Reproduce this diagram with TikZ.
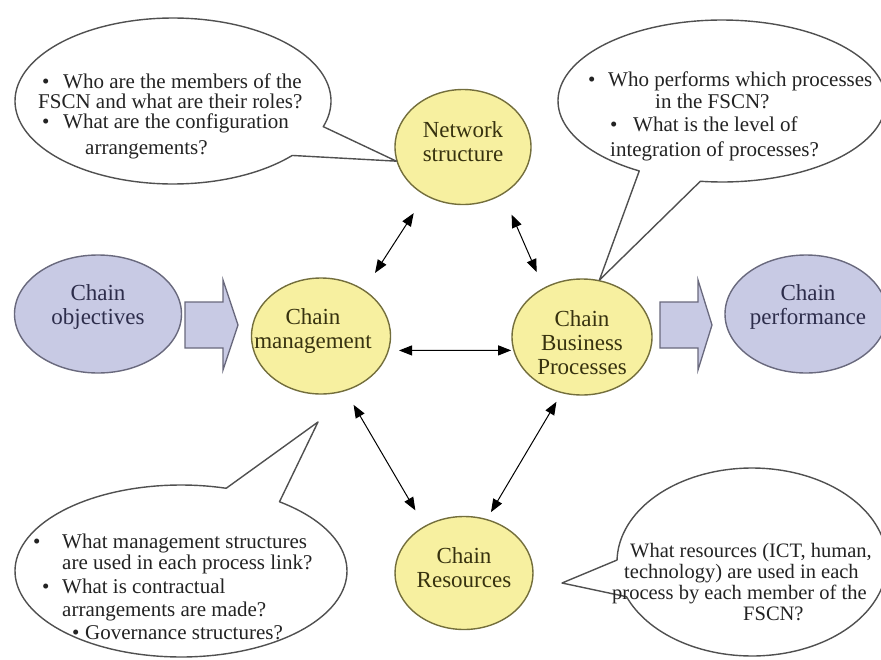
\documentclass[tikz,border=0pt]{standalone}
\usepackage{fontspec}
\setmainfont{Liberation Serif}
\usetikzlibrary{arrows.meta,shapes.geometric}
\definecolor{yelfill}{RGB}{247,240,160}
\definecolor{yeldraw}{RGB}{115,110,60}
\definecolor{yeltext}{RGB}{55,50,15}
\definecolor{purfill}{RGB}{200,202,228}
\definecolor{purdraw}{RGB}{105,105,125}
\definecolor{purtext}{RGB}{45,45,75}
\definecolor{bubdraw}{RGB}{80,80,80}
\definecolor{bubtext}{RGB}{35,35,35}
\newcommand\bblt[1]{\makebox[#1][l]{\textbullet}}
\begin{document}
\begin{tikzpicture}[x=1pt,y=-1pt,
 yel/.style={ellipse, draw=yeldraw, fill=yelfill, line width=1.4pt, inner sep=0pt},
 pur/.style={ellipse, draw=purdraw, fill=purfill, line width=1.4pt, inner sep=0pt},
 ytxt/.style={align=center, text=yeltext, font=\fontsize{23}{24}\selectfont, inner sep=0pt},
 ptxt/.style={align=center, text=purtext, font=\fontsize{23}{24}\selectfont, inner sep=0pt},
 btxt/.style={anchor=base west, inner sep=0pt, text=bubtext, font=\fontsize{21}{22}\selectfont},
 brtxt/.style={btxt, font=\fontsize{20.5}{21}\selectfont},
 bubble/.style={draw=bubdraw, fill=white, line width=1.4pt, line join=round},
 dbl/.style={<->, >={Triangle[length=13pt,width=10pt]}, line width=1pt, black},
 blk/.style={draw=purdraw, fill=purfill, line width=1.3pt}
]
\path[use as bounding box] (0,0) rectangle (881,659);
\clip (0,0) rectangle (881,659);

% main ellipses
\node[yel, minimum width=136pt, minimum height=115pt] (net)  at (463,147) {};
\node[yel, minimum width=139pt, minimum height=116pt] (mgmt) at (321,336) {};
\node[yel, minimum width=140pt, minimum height=116pt] (bus)  at (582,337) {};
\node[yel, minimum width=138pt, minimum height=113pt] (res)  at (464,573) {};
\node[pur, minimum width=167pt, minimum height=118pt] (obj)  at (98,314) {};
\node[pur, minimum width=162pt, minimum height=118pt] (perf) at (806,314) {};

\node[ytxt] (netL)  at (463,142) {Network\\structure};
\node[ytxt] (mgmtL) at (313,331) {Chain\\management};
\node[ytxt] (busL)  at (582,343) {Chain\\Business\\Processes};
\node[ytxt] (resL)  at (464,568) {Chain\\Resources};
\node[ptxt] (objL)  at (98,307)  {Chain\\objectives};
\node[ptxt] (perfL) at (808,307) {Chain\\performance};

% block arrows
\draw[blk] (185,302) -- (223,302) -- (223,280) -- (238,325) -- (223,370) -- (223,348) -- (185,348) -- cycle;
\draw[blk] (660,302) -- (698,302) -- (698,280) -- (712,325) -- (698,370) -- (698,348) -- (660,348) -- cycle;

% double arrows
\draw[dbl, shorten <=21pt, shorten >=20pt] (net.232) -- (mgmt.47);
\draw[dbl, shorten <=22pt, shorten >=17pt] (net.310) -- (bus.128);
\draw[dbl, shorten <=10pt, shorten >=2pt] (mgmt.-12) -- (bus.191);
\draw[dbl, shorten <=16pt, shorten >=18pt] (mgmt.294) -- (res.130);
\draw[dbl, shorten <=10pt, shorten >=8pt] (bus.250) -- (res.67);

% speech bubbles
\coordinate (tipBL) at (318,422);
\coordinate (tipBR) at (562,583);
\draw[bubble] plot[domain=41:378, samples=140] ({173+158*cos(\x)},{101+83*sin(\x)}) -- (net.192) -- cycle;
\draw[bubble] plot[domain=120.3:457.6, samples=140] ({722+164*cos(\x)},{101+81*sin(\x)}) -- (bus.73) -- cycle;
\draw[bubble] plot[domain=306.4:645.8, samples=140] ({181+166*cos(\x)},{571+86*sin(\x)}) -- (tipBL) -- cycle;
\draw[bubble] plot[domain=181.2:518.3, samples=140] ({752+135*cos(\x)},{562+94*sin(\x)}) -- (tipBR) -- cycle;

% bubble texts
\node[btxt] (tl1) at (42,88)  {\bblt{21pt}Who are the members of the};
\node[btxt] (tl2) at (38,108) {FSCN and what are their roles?};
\node[btxt] (tl3) at (42,128) {\bblt{21pt}What are the configuration};
\node[btxt] (tl4) at (85,154) {arrangements?};

\node[btxt] (tr1) at (588,86)  {\bblt{20pt}Who performs which processes};
\node[btxt] (tr2) at (655,108) {in the FSCN?};
\node[btxt] (tr3) at (610,131) {\bblt{23pt}What is the level of};
\node[btxt] (tr4) at (610,156) {integration of processes?};

\node[btxt] (bl1) at (33,548) {\bblt{29pt}What management structures};
\node[btxt] (bl2) at (62,569) {are used in each process link?};
\node[btxt] (bl3) at (42,593) {\bblt{20pt}What is contractual};
\node[btxt] (bl4) at (62,616) {arrangements are made?};
\node[btxt] (bl5) at (72,639) {\bblt{13pt}Governance structures?};

\node[brtxt] (br1) at (630,557) {What resources (ICT, human,};
\node[brtxt] (br2) at (624,578) {technology) are used in each};
\node[brtxt] (br3) at (612,599) {process by each member of the};
\node[brtxt] (br4) at (743,620) {FSCN?};
\end{tikzpicture}
\end{document}
